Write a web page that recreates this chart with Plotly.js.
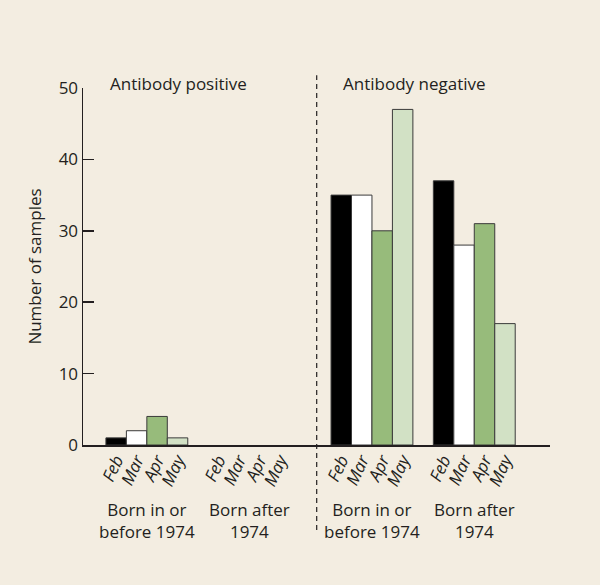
<!DOCTYPE html>
<html>
<head>
<meta charset="utf-8">
<script src="https://cdn.plot.ly/plotly-3.0.1.min.js"></script>
<style>
  body { margin: 0; background: #f3ede1; }
  #chart { width: 600px; height: 585px; }
</style>
</head>
<body>
<div id="chart"></div>
<script>
// months inside each group, and the four groups along the x axis
var months = ['Feb', 'Mar', 'Apr', 'May'];
var groupNames = ['Born in or<br>before 1974', 'Born after<br>1974', 'Born in or<br>before 1974', 'Born after<br>1974'];
var panelNames = ['Antibody positive', 'Antibody negative'];

// values per month, one entry per group
var febValues = [1, 0, 35, 37];
var marValues = [2, 0, 35, 28];
var aprValues = [4, 0, 30, 31];
var mayValues = [1, 0, 47, 17];

var monthColors = ['#000000', '#ffffff', '#97bb7b', '#d2e1c5'];
var groupStart = [0, 5, 11, 16];   // slot where each group starts

var font = 'Open Sans, sans-serif';
var ink = '#231f20';
var fsize = 17;

var series = [febValues, marValues, aprValues, mayValues];
var data = [];
var tickPos = [];
var tickText = [];

for (var m = 0; m < months.length; m++) {
    var xs = [];
    var outline = [];
    for (var g = 0; g < groupStart.length; g++) {
        xs.push(groupStart[g] + m);
        outline.push(series[m][g] > 0 ? 1 : 0);  // empty bars draw nothing
    }
    data.push({
        type: 'bar',
        x: xs,
        y: series[m],
        width: 1,
        name: months[m],
        marker: {color: monthColors[m], line: {color: '#3a3a3a', width: outline}},
        hoverinfo: 'y'
    });
}

for (var g = 0; g < groupStart.length; g++) {
    for (var m = 0; m < months.length; m++) {
        tickPos.push(groupStart[g] + m);
        tickText.push(months[m]);
    }
}

var annotations = [];
// group captions under the month labels
for (var g = 0; g < groupStart.length; g++) {
    annotations.push({
        x: groupStart[g] + 1.5, xref: 'x',
        y: -0.142, yref: 'paper', yanchor: 'top',
        text: groupNames[g], showarrow: false,
        font: {family: font, size: fsize, color: ink}
    });
}
// panel titles
annotations.push({
    x: -0.42, xref: 'x', xanchor: 'left',
    y: 1.012, yref: 'paper', yanchor: 'middle',
    text: panelNames[0], showarrow: false,
    font: {family: font, size: fsize, color: ink}
});
annotations.push({
    x: 11.0, xref: 'x', xanchor: 'left',
    y: 1.012, yref: 'paper', yanchor: 'middle',
    text: panelNames[1], showarrow: false,
    font: {family: font, size: fsize, color: ink}
});

var layout = {
    width: 600,
    height: 585,
    paper_bgcolor: '#f3ede1',
    plot_bgcolor: '#f3ede1',
    margin: {l: 83, r: 50, t: 88, b: 140},
    showlegend: false,
    barmode: 'overlay',
    bargap: 0,
    xaxis: {
        range: [-1.62, 21.2],
        tickvals: tickPos,
        ticktext: tickText,
        tickangle: -65,
        ticks: '',
        ticklabelstandoff: -3,
        showgrid: false,
        zeroline: false,
        showline: true,
        linecolor: ink,
        linewidth: 1.5,
        tickfont: {family: font, size: fsize, color: ink, style: 'italic'},
        fixedrange: true
    },
    yaxis: {
        range: [0, 50],
        tickvals: [0, 10, 20, 30, 40, 50],
        ticks: 'inside',
        ticklen: 11,
        tickwidth: 1.5,
        tickcolor: ink,
        showgrid: false,
        zeroline: false,
        showline: true,
        linecolor: ink,
        linewidth: 1.5,
        tickfont: {family: font, size: fsize, color: ink},
        title: {text: 'Number of samples', font: {family: font, size: fsize, color: ink}, standoff: 12},
        fixedrange: true
    },
    shapes: [{
        type: 'line',
        xref: 'x', yref: 'paper',
        x0: 9.8, x1: 9.8,
        y0: -0.238, y1: 1.036,
        line: {color: ink, width: 1.2, dash: '5px,4px'}
    }],
    annotations: annotations
};

Plotly.newPlot('chart', data, layout, {displayModeBar: false, staticPlot: true});
</script>
</body>
</html>
